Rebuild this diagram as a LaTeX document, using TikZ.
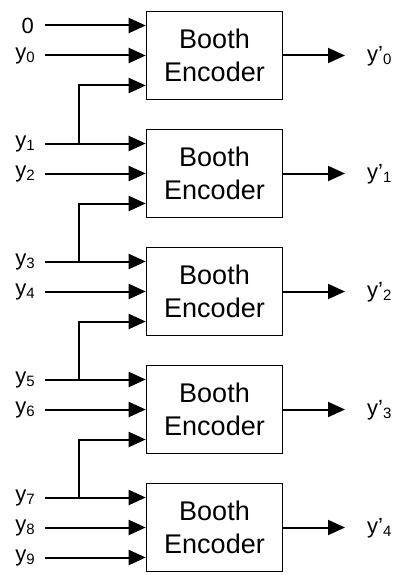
\documentclass[tikz,border=0pt]{standalone}
\usepackage{fontspec}
\setmainfont{Liberation Sans}
\usetikzlibrary{arrows.meta}
\newcommand{\sig}[1]{y\raisebox{-0.3ex}{\fontsize{15}{15}\selectfont #1}}
\newcommand{\osig}[1]{y\char"27\raisebox{-0.3ex}{\fontsize{15}{15}\selectfont #1}}
\begin{document}
\begin{tikzpicture}[x=1pt,y=-1pt,
  encoder/.style={draw,line width=1.6pt,minimum width=136pt,minimum height=88pt,
    inner sep=0pt,align=center,font=\fontsize{27}{35}\selectfont},
  inlabel/.style={anchor=east,inner sep=0pt,font=\fontsize{22}{22}\selectfont},
  outlabel/.style={anchor=west,inner sep=0pt,font=\fontsize{22}{22}\selectfont},
  wire/.style={line width=2pt,-{Triangle[length=17pt,width=15pt]}},
  tapwire/.style={line width=2pt}]
\useasboundingbox (0,0) rectangle (400,575);
% five Booth encoders stacked at a 118pt pitch
\foreach \k in {0,...,4}{
  \node[encoder] (enc\k) at (214.5,{55.5+118*\k}) {Booth\\[-2pt]Encoder};
  \node[outlabel] (out\k) at (367,{56+118*\k}) {\osig{\k}};
  \draw[wire] (enc\k.east) -- (345,{55.5+118*\k});
}
% input labels
\node[inlabel] (zero) at (34,{25.5}) {0};
\node[inlabel] (y0) at (35,{55.5}) {\sig{0}};
\foreach \k/\a/\b in {1/1/2,2/3/4,3/5/6,4/7/8}{
  \node[inlabel] (y\a) at (35,{55.5+118*\k-30}) {\sig{\a}};
  \node[inlabel] (y\b) at (35,{55.5+118*\k}) {\sig{\b}};
}
\node[inlabel] (y9) at (35,{557.5}) {\sig{9}};
% straight inputs
\draw[wire] (45,25.5) -- (enc0.west |- 0,25.5);
\draw[wire] ([xshift=10pt]y0.east) -- (enc0.west |- y0.east);
\foreach \n/\k in {1/1,2/1,3/2,4/2,5/3,6/3,7/4,8/4,9/4}{
  \draw[wire] ([xshift=10pt]y\n.east) -- (enc\k.west |- y\n.east);
}
% odd inputs also feed the third input of the encoder above
\foreach \n/\k in {1/0,3/1,5/2,7/3}{
  \coordinate (tap\n) at ([xshift=44pt]y\n.east);
  \coordinate (third\k) at (enc\k.west |- 0,{85.5+118*\k});
  \draw[tapwire] (tap\n) -- (tap\n |- third\k);
  \draw[wire] ([xshift=-1pt]tap\n |- third\k) -- (third\k);
}
\end{tikzpicture}
\end{document}
